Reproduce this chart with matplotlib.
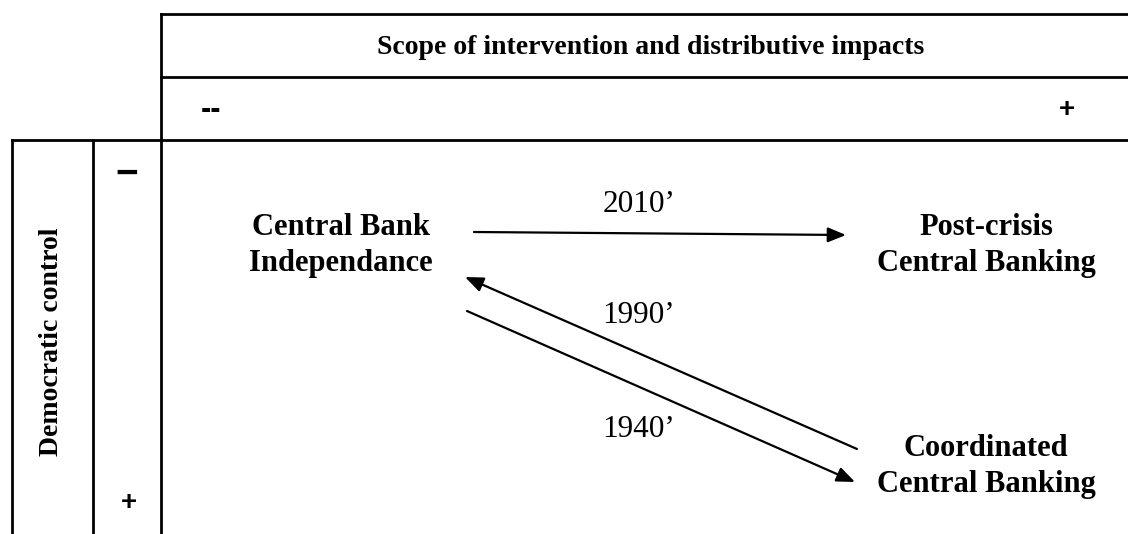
import matplotlib.pyplot as plt

# texts
title = "Scope of intervention and distributive impacts"
x_low, x_high = "--", "+"
y_low, y_high = "\u2212", "+"
y_title = "Democratic control"
regimes = ["Central Bank\nIndependance", "Post-crisis\nCentral Banking", "Coordinated\nCentral Banking"]
periods = ["2010\u2019", "1990\u2019", "1940\u2019"]

# layout (pixel coords, y down); text y = baseline of last line
W, H = 1128, 534
regime_pos = [(341, 271), (986, 271), (986, 492)]
period_pos = [(639, 212), (639, 323), (639, 437)]
arrows = [((474, 232), (846, 235)),
          ((857, 449), (465, 277)),
          ((467, 311), (855, 482))]

fig = plt.figure(figsize=(W / 100, H / 100), dpi=100)
ax = fig.add_axes([0, 0, 1, 1])
ax.set_xlim(0, W)
ax.set_ylim(H, 0)
ax.axis("off")

lw = 2.0
k = dict(color="black", lw=lw, solid_capstyle="projecting")
# header box
ax.plot([161, W], [14, 14], **k)
ax.plot([161, W], [77, 77], **k)
ax.plot([12, W], [140, 140], **k)
ax.plot([161, 161], [14, H], **k)
# left box
ax.plot([12, 12], [140, H], **k)
ax.plot([93, 93], [140, H], **k)

serif = "Liberation Serif"
sans = "Liberation Sans"

ax.text(651, 47, title, family=serif, weight="bold", fontsize=20, ha="center", va="center")
ax.text(211, 110, x_low, family=sans, weight="bold", fontsize=22, ha="center", va="center")
ax.text(1067, 110, x_high, family=sans, weight="bold", fontsize=20, ha="center", va="center")
ax.text(127, 175, y_low, family=sans, weight="bold", fontsize=28, ha="center", va="center")
ax.text(129, 503, y_high, family=sans, weight="bold", fontsize=20, ha="center", va="center")
ax.text(52, 342, y_title, family=serif, weight="bold", fontsize=20, ha="center", va="center",
        rotation=90)

for lab, (x, y) in zip(regimes, regime_pos):
    ax.text(x, y, lab, family=serif, weight="bold", fontsize=22, ha="center", va="baseline",
            linespacing=1.3)

for lab, (x, y) in zip(periods, period_pos):
    ax.text(x, y, lab, family=serif, fontsize=22.5, ha="center", va="baseline")

for (x0, y0), (x1, y1) in arrows:
    ax.annotate("", xy=(x1, y1), xytext=(x0, y0),
                arrowprops=dict(arrowstyle="-|>,head_length=1.1,head_width=0.45",
                                color="black", lw=1.6, shrinkA=0, shrinkB=0))

fig.savefig("out.png", dpi=100)
